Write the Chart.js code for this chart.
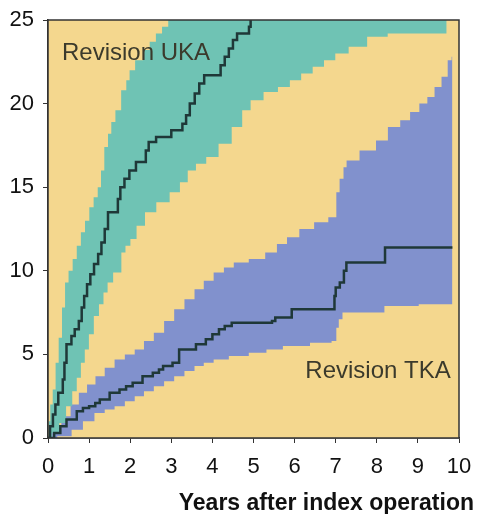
<!DOCTYPE html>
<html>
<head>
<meta charset="utf-8">
<script src="https://cdn.jsdelivr.net/npm/chart.js@4"></script>
<style>
  html, body { margin: 0; padding: 0; background: #fff; }
  canvas { display: block; }
</style>
</head>
<body>
<canvas id="revChart" width="478" height="514"></canvas>
<script>
// Data (tahun, persen revisi kumulatif)
const ukaYears = [0, 0.05, 0.12, 0.18, 0.25, 0.36, 0.4, 0.45, 0.57, 0.65, 0.75, 0.82, 0.88, 0.95, 1.03, 1.12, 1.22, 1.3, 1.38, 1.46, 1.7, 1.76, 1.86, 1.98, 2.14, 2.38, 2.45, 2.63, 3.0, 3.27, 3.36, 3.45, 3.57, 3.68, 3.8, 4.2, 4.3, 4.4, 4.5, 4.6, 4.89, 4.93, 5.2, 9.7];
const ukaRate  = [0, 0.7, 1.4, 2.0, 2.7, 3.5, 4.5, 5.6, 6.1, 6.5, 7.0, 7.8, 8.5, 9.2, 9.8, 10.4, 11.0, 11.7, 12.5, 13.5, 14.3, 15.0, 15.5, 16.0, 16.5, 17.2, 17.7, 18.0, 18.4, 18.8, 19.3, 20.0, 20.6, 21.2, 21.7, 22.3, 22.8, 23.3, 23.8, 24.2, 24.6, 25.5, 26.5, 27];

// batas atas dan bawah interval kepercayaan (titik di tepi pita)
const ukaHiYears = [0, 0.03, 0.08, 0.15, 0.22, 0.3, 0.38, 0.45, 0.55, 0.65, 0.75, 0.85, 0.95, 1.06, 1.16, 1.26, 1.32, 1.42, 1.5, 1.58, 1.7, 1.86, 1.95, 2.02, 2.22, 2.4, 2.55, 2.7, 2.85, 3.0, 3.2, 9.7];
const ukaHi      = [0, 1.0, 2.0, 2.9, 4.5, 6.0, 7.8, 9.3, 10.0, 10.7, 11.5, 12.3, 13.0, 13.8, 14.4, 15.0, 16.0, 17.4, 18.2, 18.9, 19.6, 20.8, 21.4, 22.0, 22.6, 23.2, 23.7, 24.2, 24.6, 25.3, 26, 27];

const ukaLoYears = [0, 0.2, 0.35, 0.53, 0.65, 0.75, 0.85, 0.94, 1.05, 1.18, 1.3, 1.4, 1.5, 1.67, 1.75, 1.82, 1.95, 2.06, 2.25, 2.47, 2.8, 3.12, 3.3, 3.5, 3.7, 4.0, 4.3, 4.64, 4.81, 5.05, 5.44, 5.75, 6.02, 6.3, 6.58, 6.85, 7.13, 7.5, 8.03, 8.5, 9.7];
const ukaLo      = [0, 0.3, 0.9, 1.9, 2.8, 3.6, 4.5, 5.3, 6.2, 7.3, 8.0, 8.7, 9.3, 9.9, 9.9, 11.1, 11.5, 11.9, 12.7, 13.5, 14.1, 14.7, 15.3, 16.0, 16.4, 16.8, 17.6, 18.6, 19.6, 20.2, 20.7, 21.0, 21.4, 21.8, 22.2, 22.6, 23.0, 23.4, 24.0, 24.2, 24.2];

const tkaYears = [0, 0.15, 0.3, 0.45, 0.7, 0.85, 1.0, 1.15, 1.26, 1.5, 1.74, 1.9, 2.06, 2.3, 2.55, 2.7, 2.8, 3.03, 3.19, 3.6, 3.84, 4.0, 4.16, 4.3, 4.47, 5.45, 5.53, 5.93, 6.97, 7.0, 7.1, 7.2, 7.26, 8.2, 9.84];
const tkaRate  = [0, 0.3, 0.7, 1.1, 1.6, 1.8, 1.9, 2.1, 2.3, 2.7, 2.9, 3.1, 3.3, 3.7, 3.9, 4.1, 4.3, 4.5, 5.3, 5.6, 5.9, 6.2, 6.5, 6.7, 6.9, 7.0, 7.2, 7.7, 8.5, 9.0, 9.3, 10.0, 10.5, 11.4, 11.4];

const tkaHiYears = [0, 0.2, 0.45, 0.65, 0.85, 1.05, 1.26, 1.5, 1.74, 2.0, 2.22, 2.45, 2.7, 2.95, 3.19, 3.45, 3.68, 3.9, 4.16, 4.4, 4.64, 5.13, 5.44, 5.7, 5.93, 6.3, 6.65, 6.99, 7.04, 7.15, 7.23, 7.3, 7.86, 8.1, 8.44, 8.7, 8.92, 9.15, 9.31, 9.5, 9.65, 9.8, 9.84];
const tkaHi      = [0, 0.6, 1.3, 2.0, 2.7, 3.2, 3.7, 4.2, 4.7, 5.0, 5.3, 5.8, 6.3, 7.0, 7.7, 8.3, 8.9, 9.4, 9.9, 10.2, 10.5, 10.7, 11.1, 11.6, 12.0, 12.5, 12.9, 13.2, 14.7, 15.5, 16.2, 16.6, 17.2, 17.8, 18.6, 19.0, 19.5, 20.0, 20.4, 21.0, 21.6, 22.6, 22.8];

const tkaLoYears = [0, 0.45, 0.7, 1.0, 1.26, 1.5, 1.74, 2.0, 2.22, 2.45, 2.7, 2.95, 3.19, 3.45, 3.68, 3.9, 4.16, 4.64, 5.13, 5.5, 5.93, 6.82, 6.98, 7.05, 7.1, 7.23, 8.17, 8.2, 9.84];
const tkaLo      = [0, 0.1, 0.5, 1.0, 1.5, 1.7, 1.9, 2.2, 2.5, 2.8, 3.1, 3.4, 3.7, 4.0, 4.3, 4.5, 4.7, 4.9, 5.1, 5.3, 5.5, 5.7, 5.8, 6.6, 7.1, 7.5, 7.5, 7.9, 8.0];

const xTicks = [0, 1, 2, 3, 4, 5, 6, 7, 8, 9, 10];
const yTicks = [0, 5, 10, 15, 20, 25];

const toPoints = (xs, ys) => xs.map((x, i) => ({ x: x, y: ys[i] }));

const lineColor = '#1f3838';
const tealFill = '#6fc3b4';
const blueFill = '#8191cd';
const paper = '#f4d78e';

// latar kuning, bingkai dan label
const decor = {
  id: 'decor',
  beforeDatasetsDraw(chart) {
    const { ctx, chartArea: a } = chart;
    ctx.save();
    ctx.fillStyle = paper;
    ctx.fillRect(a.left, a.top, a.right - a.left, a.bottom - a.top);
    ctx.restore();
  },
  afterDatasetsDraw(chart) {
    const { ctx, chartArea: a } = chart;
    ctx.save();
    ctx.strokeStyle = '#333';
    ctx.lineWidth = 1.5;
    ctx.strokeRect(a.left, a.top, a.right - a.left, a.bottom - a.top);
    ctx.fillStyle = '#3b3a2c';
    ctx.font = '24px "Liberation Sans", Arial, sans-serif';
    ctx.textAlign = 'center';
    ctx.textBaseline = 'alphabetic';
    ctx.fillText('Revision UKA', 136, 60);
    ctx.fillText('Revision TKA', 378, 378);
    ctx.fillStyle = '#111';
    ctx.font = 'bold 23px "Liberation Sans", Arial, sans-serif';
    ctx.textAlign = 'right';
    ctx.fillText('Years after index operation', 474, 510);
    ctx.restore();
  }
};

// pita interval kepercayaan (digambar di bawah garis)
const band = (pts, color, fill) => ({
  data: pts,
  stepped: 'middle',
  borderWidth: 0,
  pointRadius: 0,
  backgroundColor: color,
  fill: fill,
  order: 2
});

// kurva Kaplan-Meier bertangga
const curve = (label, pts) => ({
  label: label,
  data: pts,
  stepped: true,
  borderColor: lineColor,
  borderWidth: 2.5,
  pointRadius: 0,
  fill: false,
  order: 1
});

const configRev = {
  type: 'line',
  data: {
    datasets: [
      band(toPoints(ukaHiYears, ukaHi), tealFill, '+1'),
      band(toPoints(ukaLoYears, ukaLo), tealFill, false),
      band(toPoints(tkaHiYears, tkaHi), blueFill, '+1'),
      band(toPoints(tkaLoYears, tkaLo), blueFill, false),
      curve('Revision UKA', toPoints(ukaYears, ukaRate)),
      curve('Revision TKA', toPoints(tkaYears, tkaRate))
    ]
  },
  options: {
    responsive: false,
    animation: false,
    layout: { padding: { top: 20, right: 19, left: 0, bottom: 0 } },
    plugins: {
      legend: { display: false },
      tooltip: { enabled: false }
    },
    scales: {
      x: {
        type: 'linear',
        min: 0,
        max: 10,
        afterFit(scale) {
          scale.height = 76;
          scale.paddingLeft = 0;
          scale.paddingRight = 0;
        },
        afterBuildTicks(scale) { scale.ticks = xTicks.map(v => ({ value: v })); },
        grid: { drawOnChartArea: false, drawTicks: true, tickLength: 5, color: '#333' },
        border: { display: true, color: '#333', width: 1.5 },
        ticks: {
          padding: 11,
          color: '#111',
          font: { family: '"Liberation Sans", Arial, sans-serif', size: 22 }
        }
      },
      y: {
        min: 0,
        max: 25,
        afterFit(scale) {
          scale.width = 48;
          scale.paddingTop = 0;
          scale.paddingBottom = 0;
        },
        afterBuildTicks(scale) { scale.ticks = yTicks.map(v => ({ value: v })); },
        grid: { drawOnChartArea: false, drawTicks: true, tickLength: 5, color: '#333' },
        border: { display: true, color: '#333', width: 1.5 },
        ticks: {
          padding: 9,
          color: '#111',
          font: { family: '"Liberation Sans", Arial, sans-serif', size: 22 }
        }
      }
    }
  },
  plugins: [decor]
};

const revChart = new Chart(document.getElementById('revChart'), configRev);
</script>
</body>
</html>
